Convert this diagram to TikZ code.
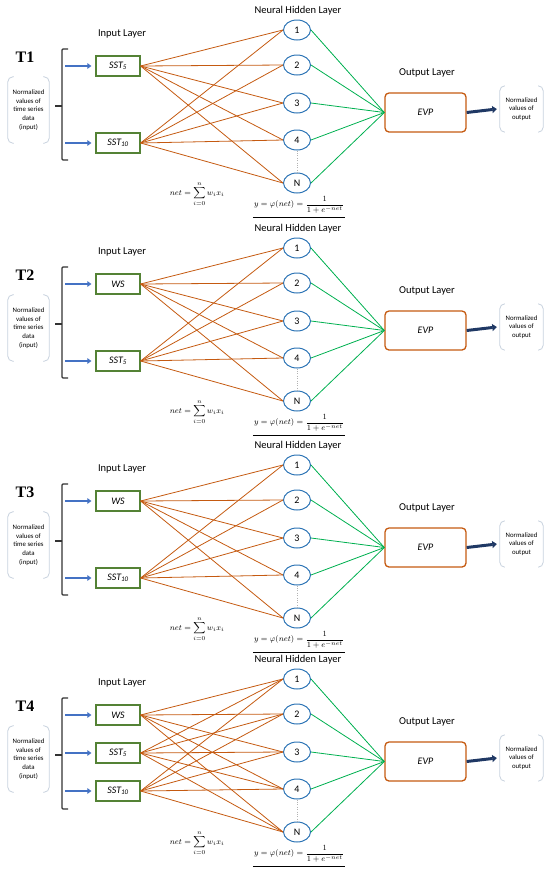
\documentclass[tikz,border=0pt]{standalone}
\usepackage{amsmath}
\usepackage{fontspec}
\setmainfont{Carlito}
\newfontfamily\tagserif{Liberation Serif}
\usetikzlibrary{arrows.meta,positioning,shapes.geometric}
\definecolor{wireorange}{RGB}{197,90,17}
\definecolor{inboxgreen}{RGB}{84,130,53}
\definecolor{hiddenblue}{RGB}{46,117,182}
\definecolor{outgreen}{RGB}{0,176,80}
\definecolor{feedblue}{RGB}{68,114,196}
\definecolor{evpnavy}{RGB}{31,56,100}
\definecolor{parengray}{RGB}{200,210,222}

% one network: #1 = vertical offset, #2 = tag, #3 = number of inputs, #4 = input nodes
\newcommand{\annpanel}[4]{%
\begin{scope}[shift={(0,#1)}]
  \node[tag] (tag#2) at (25,57) {T#2};
  \node[layer] (inlab#2) at (122,34) {Input Layer};
  \node[layer] (hidlab#2) at (298,11) {Neural Hidden Layer};
  \node[layer] (outlab#2) at (427,73) {Output Layer};
  % source text with its round brackets
  \node[note, minimum width=41pt, minimum height=66pt] (src#2) at (28.5,110) {Normalized\\values of\\time series\\data\\(input)};
  \draw[paren] ([xshift=6pt]src#2.north west) -- (src#2.north west) -- (src#2.south west) -- ([xshift=6pt]src#2.south west);
  \draw[paren] ([xshift=-6pt]src#2.north east) -- (src#2.north east) -- (src#2.south east) -- ([xshift=-6pt]src#2.south east);
  \draw[inbrace] (68,49) -- (62,49) -- (62,160) -- (68,160);
  \draw[inbrace] (62,106) -- (55,106);
  % hidden layer
  \foreach \k/\ky/\kt in {1/30/1,2/65/2,3/103/3,4/140/4,5/183/N}
    \node[neuron] (h#2-\k) at (297,\ky) {\kt};
  \draw[gray!60, dotted, thin] (h#2-4) -- (h#2-5);
  % output layer
  \node[evpbox] (evp#2) at (425.5,112.5) {EVP};
  \node[note, minimum width=43pt, minimum height=46pt] (outv#2) at (521.5,109) {Normalized\\values of\\output};
  \draw[paren] ([xshift=5pt]outv#2.north west) -- (outv#2.north west) -- (outv#2.south west) -- ([xshift=5pt]outv#2.south west);
  \draw[paren] ([xshift=-5pt]outv#2.north east) -- (outv#2.north east) -- (outv#2.south east) -- ([xshift=-5pt]outv#2.south east);
  \draw[outarr] (evp#2.east) -- ([xshift=-3pt]outv#2.west);
  \foreach \k in {1,...,5}
    \draw[outwire] (h#2-\k.east) -- (evp#2.west);
  % inputs
  #4
  \foreach \i in {1,...,#3} {
    \draw[feed] ([xshift=-30pt]in#2-\i.west) -- ([xshift=-4pt]in#2-\i.west);
    \foreach \k in {1,...,5}
      \draw[wire] (in#2-\i.east) -- (h#2-\k.west);
  }
  % formulas
  \node[formula] (net#2) at (197,194) {$net=\displaystyle\sum\limits_{i=0}^{n} w_i x_i$};
  \node[formula] (yf#2) at (299,205) {$y=\varphi(net)=\dfrac{1}{1+e^{-net}}$};
  \draw[thin] ([yshift=-2pt]yf#2.south west) -- ([yshift=-2pt]yf#2.south east);
\end{scope}}

\begin{document}
\begin{tikzpicture}[x=1pt, y=-1pt,
  tag/.style={font=\tagserif\bfseries\fontsize{16}{18}\selectfont},
  layer/.style={font=\fontsize{10.5}{12}\selectfont},
  note/.style={align=center, inner sep=0pt, font=\fontsize{6.8}{8.6}\selectfont},
  paren/.style={draw=parengray, line width=0.8pt, rounded corners=5pt},
  inbrace/.style={draw=black!80, line width=1.1pt, rounded corners=1pt},
  neuron/.style={ellipse, draw=hiddenblue, line width=1pt, minimum width=27pt, minimum height=20pt, inner sep=0pt, font=\fontsize{10}{12}\selectfont},
  inbox/.style={draw=inboxgreen, line width=1.2pt, minimum width=44pt, minimum height=20pt, inner sep=0pt, font=\fontsize{10}{12}\selectfont\itshape},
  evpbox/.style={draw=wireorange, line width=1.3pt, rounded corners=4pt, minimum width=81pt, minimum height=39pt, font=\fontsize{10}{12}\selectfont\itshape},
  formula/.style={inner sep=1pt, font=\fontsize{8.5}{10}\selectfont},
  wire/.style={draw=wireorange, line width=0.8pt},
  outwire/.style={draw=outgreen, line width=0.8pt},
  feed/.style={draw=feedblue, line width=2.2pt, -{Triangle[length=4pt,width=5.5pt]}},
  outarr/.style={draw=evpnavy, line width=3pt, -{Triangle[length=4.5pt,width=7pt]}},
]
\useasboundingbox (0,0) rectangle (550,871);

\annpanel{0}{1}{2}{%
  \node[inbox] (in1-1) at (118,66) {SST\textsubscript{5}};
  \node[inbox] (in1-2) at (118,143) {SST\textsubscript{10}};}

\annpanel{218}{2}{2}{%
  \node[inbox] (in2-1) at (118,66) {WS};
  \node[inbox] (in2-2) at (118,143) {SST\textsubscript{5}};}

\annpanel{435}{3}{2}{%
  \node[inbox] (in3-1) at (118,66) {WS};
  \node[inbox] (in3-2) at (118,143) {SST\textsubscript{10}};}

\annpanel{649}{4}{3}{%
  \node[inbox] (in4-1) at (118,66) {WS};
  \node[inbox] (in4-2) at (118,104) {SST\textsubscript{5}};
  \node[inbox] (in4-3) at (118,142) {SST\textsubscript{10}};}
\end{tikzpicture}
\end{document}
